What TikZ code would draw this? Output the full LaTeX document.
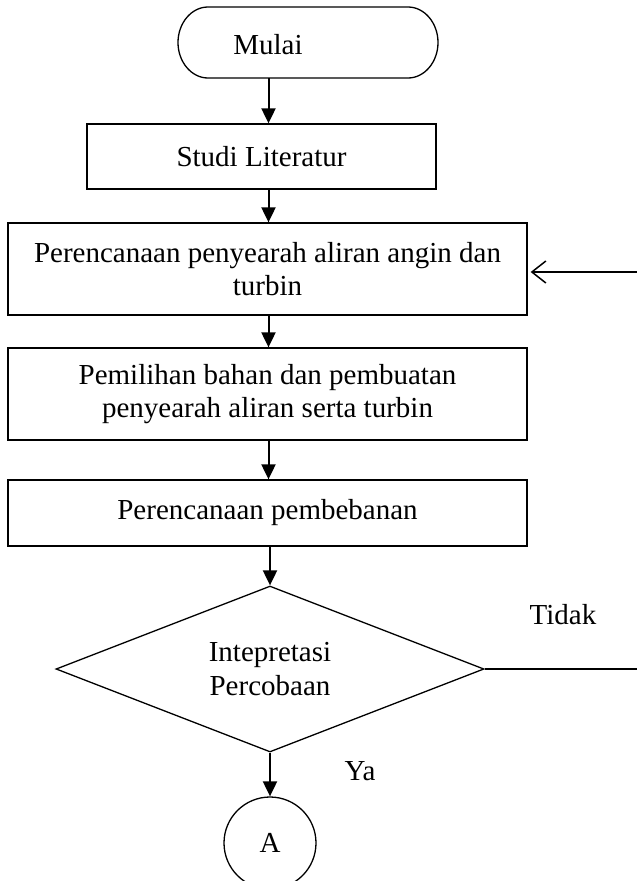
\documentclass[tikz,border=0pt]{standalone}
\usepackage{fontspec}
\setmainfont{Liberation Serif}
\usetikzlibrary{arrows.meta,shapes.geometric}
\begin{document}
\begin{tikzpicture}[x=1pt,y=-1pt,
  font=\fontsize{29}{33.4}\selectfont,
  box/.style={draw, line width=1.3pt, rectangle, inner sep=0pt, align=center},
  flow/.style={line width=2pt, -{Triangle[length=15pt,width=14pt]}},
  back/.style={line width=1.5pt, -{Straight Barb[length=14pt,width=22pt]}},
  plain/.style={line width=1.5pt},
  lbl/.style={inner sep=0pt}]
\useasboundingbox (0,0) rectangle (637,881);
% terminal
\draw[line width=1.3pt] (208,7) -- (408,7)
  .. controls (424.5,7) and (438,23) .. (438,42.5)
  .. controls (438,62) and (424.5,78) .. (408,78) -- (208,78)
  .. controls (191.5,78) and (178,62) .. (178,42.5)
  .. controls (178,23) and (191.5,7) .. (208,7) -- cycle;
\node[lbl] (mulai) at (268,45) {Mulai};
\coordinate (mulaib) at (268.5,78);
\node[box, minimum width=349pt, minimum height=65pt] (studi) at (261.5,156.5) {Studi Literatur};
\node[box, minimum width=519pt, minimum height=92pt] (peren) at (267.5,269)
  {Perencanaan penyearah aliran angin dan\\turbin};
\node[box, minimum width=519pt, minimum height=92pt] (pilih) at (267.5,394)
  {Pemilihan bahan dan pembuatan\\penyearah aliran serta turbin};
\node[box, minimum width=519pt, minimum height=66pt] (beban) at (267.5,513)
  {Perencanaan pembebanan};
\node[draw, line width=1.3pt, diamond, aspect=2.58, inner sep=0pt, align=center,
  minimum width=428pt, minimum height=166pt] (dec) at (270,669)
  {Intepretasi\\Percobaan};
\node[draw, line width=1.3pt, circle, inner sep=0pt, minimum size=92pt] (conA) at (270,843) {A};
\node[lbl] (tidak) at (563,615) {Tidak};
\node[lbl] (ya) at (360,771) {Ya};
\coordinate (fb) at (637,272);
\coordinate (tend) at (637,669);
% connectors
\draw[flow] (mulaib) -- (mulaib |- studi.north);
\draw[flow] (studi.south -| mulaib) -- (peren.north -| mulaib);
\draw[flow] (peren.south -| mulaib) -- (pilih.north -| mulaib);
\draw[flow] (pilih.south -| mulaib) -- (beban.north -| mulaib);
\draw[flow] (beban.south -| dec.north) -- (dec.north);
\draw[flow] (dec.south) -- (conA.north);
\draw[back, shorten >=3pt] (fb) -- (peren.east |- fb);
\draw[plain] (dec.east) -- (tend);
\end{tikzpicture}
\end{document}
